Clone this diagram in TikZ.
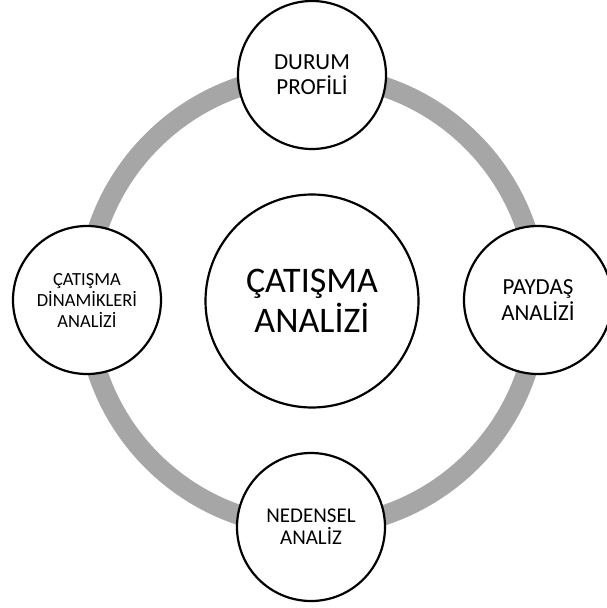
\documentclass[tikz,border=0pt]{standalone}
\usepackage{fontspec}
\setmainfont{Carlito}
\definecolor{halkagri}{HTML}{A6A6A6}
\tikzset{
  halka/.style={draw=halkagri, line width=20pt},
  konu/.style={circle, draw=black, line width=2.2pt, fill=white, minimum size=148pt, inner sep=0pt, align=center},
}
\begin{document}
\begin{tikzpicture}[x=1pt,y=-1pt]
        \useasboundingbox (0,0) rectangle (606,608);
        \coordinate (orta) at (312,301);
        \draw[halka] (orta) circle (226pt);
        \node[konu, minimum size=213pt, font=\fontsize{36}{40}\selectfont] (analiz) at (orta) {ÇATIŞMA\\ANALİZİ};
        \node[konu, font=\fontsize{23}{25}\selectfont] (durum) at (312,75) {DURUM\\PROFİLİ};
        \node[konu, font=\fontsize{23}{25.5}\selectfont] (paydas) at (538,300) {PAYDAŞ\\ANALİZİ};
        \node[konu, font=\fontsize{21}{22}\selectfont] (neden) at (311,527) {NEDENSEL\\ANALİZ};
        \node[konu, font=\fontsize{18.5}{21}\selectfont] (dinamik) at (87,300) {ÇATIŞMA\\DİNAMİKLERİ\\ANALİZİ};
      \end{tikzpicture}
\end{document}
